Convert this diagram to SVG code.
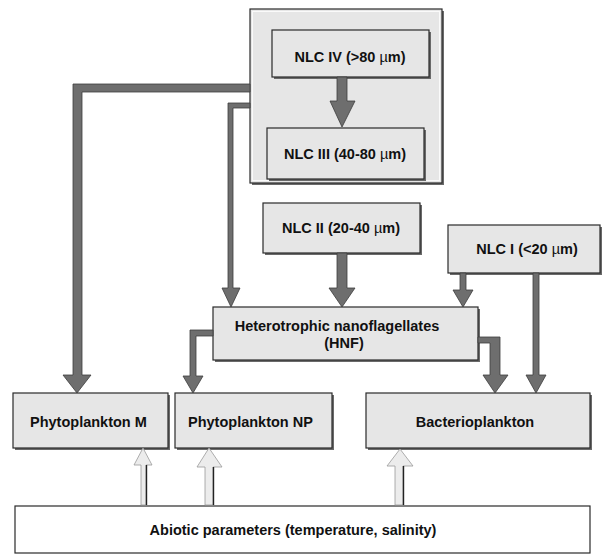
<svg xmlns="http://www.w3.org/2000/svg" width="606" height="555" viewBox="0 0 606 555">
<style>
.box{fill:#e6e6e6;stroke:#2a2a2a;stroke-width:1.2}
.shadow{fill:#6a6a6a}
.white{fill:#ffffff;stroke:#2a2a2a;stroke-width:1.2}
.t{font-family:"Liberation Sans",Arial,sans-serif;font-weight:bold;font-size:14.5px;fill:#111}
.mu{font-weight:normal}
.arr{fill:#6e6e6e;stroke:#3c3c3c;stroke-width:0.8;stroke-linejoin:miter}
.up{fill:#ececec;stroke:#9a9a9a;stroke-width:0.8}
.upd{stroke:#222;stroke-width:1.4}
</style>
<rect width="606" height="555" fill="#ffffff"/>

<g id="nlc-outer">
  <rect class="shadow" x="252" y="11" width="192" height="174"/>
  <rect class="box" x="250" y="9" width="192" height="174"/>
  <rect x="252.5" y="11.5" width="187" height="169" fill="none" stroke="#fafafa" stroke-width="1"/>
</g>

<g id="nlc4">
  <rect class="shadow" x="274" y="32" width="157" height="47"/>
  <rect class="box" x="272" y="30" width="157" height="47"/>
  <text class="t" x="350" y="62" text-anchor="middle">NLC IV (&gt;80 <tspan class="mu">µ</tspan>m)</text>
</g>

<g id="nlc3">
  <rect class="shadow" x="269" y="130" width="157" height="51"/>
  <rect class="box" x="267" y="128" width="157" height="51"/>
  <text class="t" x="345" y="159" text-anchor="middle">NLC III (40-80 <tspan class="mu">µ</tspan>m)</text>
</g>

<g id="nlc2">
  <rect class="shadow" x="265" y="205" width="157" height="50"/>
  <rect class="box" x="263" y="203" width="157" height="50"/>
  <text class="t" x="341" y="233" text-anchor="middle">NLC II (20-40 <tspan class="mu">µ</tspan>m)</text>
</g>

<g id="nlc1">
  <rect class="shadow" x="450" y="227" width="152" height="48"/>
  <rect class="box" x="448" y="225" width="152" height="48"/>
  <text class="t" x="527" y="254" text-anchor="middle">NLC I (&lt;20 <tspan class="mu">µ</tspan>m)</text>
</g>

<g id="hnf">
  <rect class="shadow" x="215" y="309" width="265" height="53"/>
  <rect class="box" x="213" y="307" width="265" height="53"/>
  <text class="t" x="337" y="331" text-anchor="middle">Heterotrophic nanoflagellates</text>
  <text class="t" x="344" y="348" text-anchor="middle">(HNF)</text>
</g>

<g id="phyto-m">
  <rect class="shadow" x="15" y="395" width="155" height="55"/>
  <rect class="box" x="13" y="393" width="155" height="55"/>
  <text class="t" x="30" y="427">Phytoplankton M</text>
</g>

<g id="phyto-np">
  <rect class="shadow" x="177" y="395" width="157" height="55"/>
  <rect class="box" x="175" y="393" width="157" height="55"/>
  <text class="t" x="188" y="427">Phytoplankton NP</text>
</g>

<g id="bacterio">
  <rect class="shadow" x="368" y="395" width="224" height="55"/>
  <rect class="box" x="366" y="393" width="224" height="55"/>
  <text class="t" x="475" y="427" text-anchor="middle">Bacterioplankton</text>
</g>

<g id="abiotic">
  <rect class="white" x="15" y="506" width="575" height="47"/>
  <text class="t" x="293" y="535" text-anchor="middle">Abiotic parameters (temperature, salinity)</text>
</g>

<g id="connectors">
  <!-- outer -> Phytoplankton M -->
  <polygon class="arr" points="250,84 73,84 73,375 63,375 77,393 91,375 82,375 82,92 250,92"/>
  <!-- outer -> HNF -->
  <polygon class="arr" points="250,103 228,103 228,288 222,288 231,307 240,288 233,288 233,108 250,108"/>
  <!-- NLC IV -> NLC III -->
  <polygon class="arr" points="337,77 347,77 347,101 355,101 342,127 330,101 337,101"/>
  <!-- NLC II -> HNF -->
  <polygon class="arr" points="337,253 347,253 347,288 355,288 342,307 329,288 337,288"/>
  <!-- NLC I -> HNF -->
  <polygon class="arr" points="460,273 466,273 466,290 473,290 463,307 453,290 460,290"/>
  <!-- NLC I -> Bacterioplankton -->
  <polygon class="arr" points="533,273 539,273 539,375 546,375 536,393 526,375 533,375"/>
  <!-- HNF -> Phytoplankton NP -->
  <polygon class="arr" points="213,330 190,330 190,376 183,376 193,393 203,376 196,376 196,336 213,336"/>
  <!-- HNF -> Bacterioplankton -->
  <polygon class="arr" points="478,337 500,337 500,375 508,375 495,393 483,375 490,375 490,343 478,343"/>
  <!-- Abiotic -> Phytoplankton M -->
  <polygon class="up" points="141,505 141,465 134,465 143,448 152,465 146,465 146,505"/>
  <line class="upd" x1="146.5" y1="465" x2="146.5" y2="505"/>
  <!-- Abiotic -> Phytoplankton NP -->
  <polygon class="up" points="205,505 205,467 197,467 209,448 222,467 213,467 213,505"/>
  <line class="upd" x1="213.5" y1="467" x2="213.5" y2="505"/>
  <!-- Abiotic -> Bacterioplankton -->
  <polygon class="up" points="395,505 395,466 387,466 400,449 413,466 403,466 403,505"/>
  <line class="upd" x1="403.5" y1="466" x2="403.5" y2="505"/>
</g>
</svg>
